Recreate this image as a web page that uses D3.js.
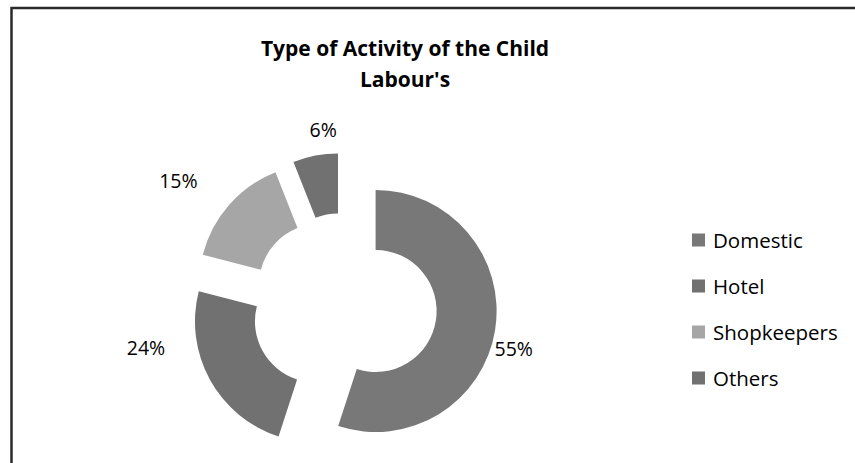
<!DOCTYPE html>
<html>
<head>
<meta charset="utf-8">
<script src="https://cdn.jsdelivr.net/npm/d3@7/dist/d3.min.js"></script>
<style>
  html, body { margin: 0; padding: 0; background: #fff; }
  svg { display: block; }
</style>
</head>
<body>
<svg id="chart" width="855" height="463"></svg>
<script>
// Type of activity of the child labourers (share in %)
const categories = ["Domestic", "Hotel", "Shopkeepers", "Others"];
const shares = [55, 24, 15, 6];
const shareLabels = ["55%", "24%", "15%", "6%"];
const sliceColors = ["#787878", "#717171", "#a6a6a6", "#717171"];
const titleLines = ["Type of Activity of the Child", "Labour's"];

const W = 855, H = 463;
const svg = d3.select("#chart");

// Chart frame (left and top edges visible)
svg.append("path")
  .attr("d", `M11.5,${H} L11.5,8 L${W},8`)
  .attr("fill", "none")
  .attr("stroke", "#2a2a2a")
  .attr("stroke-width", 2.5);

// Title
const title = svg.append("text")
  .attr("text-anchor", "middle")
  .attr("font-family", "'Open Sans', sans-serif")
  .attr("font-weight", "bold")
  .attr("font-size", 21)
  .attr("fill", "#000");
titleLines.forEach((t, i) => {
  title.append("tspan").attr("x", 405).attr("y", 56 + i * 31).text(t);
});

// Doughnut
const cx = 344, cy = 306;
const outerR = 121, innerR = 61, explode = 32;

const pie = d3.pie().sort(null).value(d => d);
const arcs = pie(shares);
const arc = d3.arc().innerRadius(innerR).outerRadius(outerR);

const g = svg.append("g").attr("transform", `translate(${cx},${cy})`);

// offset of an exploded slice along its mid-angle
function offset(d, dist) {
  const a = (d.startAngle + d.endAngle) / 2;
  return [Math.sin(a) * dist, -Math.cos(a) * dist];
}

g.selectAll("path.slice")
  .data(arcs)
  .join("path")
  .attr("class", "slice")
  .attr("d", arc)
  .attr("fill", (d, i) => sliceColors[i])
  .attr("transform", d => {
    const [dx, dy] = offset(d, explode);
    return `translate(${dx},${dy})`;
  });

// Percentage labels placed outside each slice
const labelShiftDeg = [6, 20, -5, 5];
const labelRadius = [143, 172, 176, 146];
g.selectAll("text.pct")
  .data(arcs)
  .join("text")
  .attr("class", "pct")
  .attr("text-anchor", "middle")
  .attr("dominant-baseline", "central")
  .attr("font-family", "'Open Sans', sans-serif")
  .attr("font-size", 19.5)
  .attr("fill", "#000")
  .attr("x", (d, i) => {
    const [dx] = offset(d, explode);
    const a = (d.startAngle + d.endAngle) / 2 + labelShiftDeg[i] * Math.PI / 180;
    return dx + Math.sin(a) * labelRadius[i];
  })
  .attr("y", (d, i) => {
    const [, dy] = offset(d, explode);
    const a = (d.startAngle + d.endAngle) / 2 + labelShiftDeg[i] * Math.PI / 180;
    return dy - Math.cos(a) * labelRadius[i];
  })
  .text((d, i) => shareLabels[i]);

// Legend
const legendY = d3.scalePoint().domain(categories).range([240, 378]);
const legend = svg.append("g");
const item = legend.selectAll("g")
  .data(categories)
  .join("g")
  .attr("transform", d => `translate(692,${legendY(d)})`);
item.append("rect")
  .attr("x", 0).attr("y", -6.5)
  .attr("width", 13).attr("height", 13)
  .attr("fill", (d, i) => sliceColors[i]);
item.append("text")
  .attr("x", 21)
  .attr("y", 0)
  .attr("dominant-baseline", "central")
  .attr("font-family", "'Open Sans', sans-serif")
  .attr("font-size", 20.5)
  .attr("fill", "#000")
  .text(d => d);
</script>
</body>
</html>
